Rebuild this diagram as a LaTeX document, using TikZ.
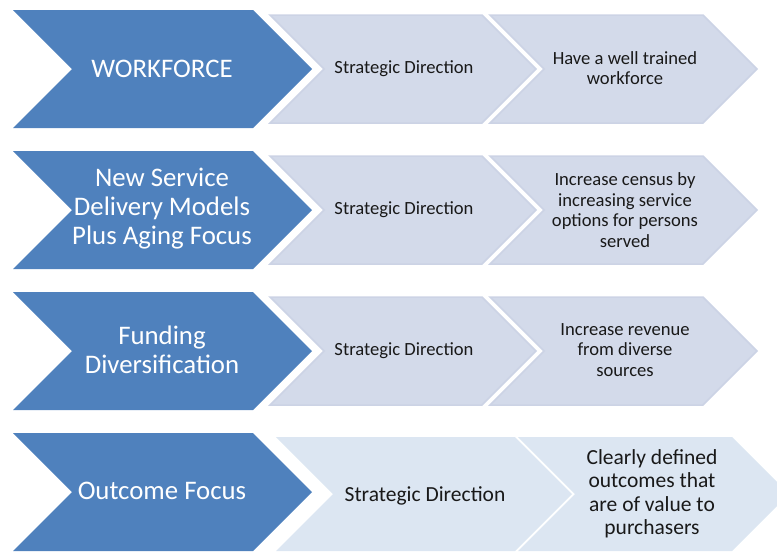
\documentclass[tikz,border=0pt]{standalone}
\usepackage{fontspec}
\setmainfont{Carlito}
\definecolor{darkblue}{HTML}{4F81BD}
\definecolor{lightA}{HTML}{D3DAEA}
\definecolor{lightAedge}{HTML}{CCD3E5}
\definecolor{lightB}{HTML}{DCE6F2}
\newcommand{\mychevron}[5]{%
  \path[#1] (#2,#4-#5) -- (#3,#4-#5) -- (#3+#5,#4) -- (#3,#4+#5) -- (#2,#4+#5) -- (#2+#5,#4) -- cycle;}
\begin{document}
\begin{tikzpicture}[x=1pt,y=-1pt,
  darkchev/.style={fill=darkblue},
  lightchev/.style={fill=lightA,draw=lightAedge,line width=1.5pt,line join=miter},
  paleschev/.style={fill=lightB},
  headtext/.style={text=white,font=\fontsize{26.8}{29}\selectfont,align=center,inner sep=0pt},
  smalltext/.style={text=black!90,font=\fontsize{18.6}{20.5}\selectfont,align=center,inner sep=0pt},
  bigtext/.style={text=black!90,font=\fontsize{21.5}{23.5}\selectfont,align=center,inner sep=0pt}]
\useasboundingbox (0,0) rectangle (777,552);
\clip (0,0) rectangle (777,552);
% Row 1
\mychevron{darkchev}{13}{253}{69}{59}
\mychevron{lightchev}{270}{482}{69}{54}
\mychevron{lightchev}{490}{703}{69}{54}
\node[headtext] (h1) at (162,69) {WORKFORCE};
\node[smalltext] (s1) at (404,69) {Strategic Direction};
\node[smalltext] (g1) at (625,68) {Have a well trained\\workforce};
% Row 2
\mychevron{darkchev}{13}{253}{210}{59}
\mychevron{lightchev}{270}{482}{210}{54}
\mychevron{lightchev}{490}{703}{210}{54}
\node[headtext] (h2) at (162,209) {New Service\\Delivery Models\\Plus Aging Focus};
\node[smalltext] (s2) at (404,210) {Strategic Direction};
\node[smalltext] (g2) at (625,210) {Increase census by\\increasing service\\options for persons\\served};
% Row 3
\mychevron{darkchev}{13}{253}{351}{59}
\mychevron{lightchev}{270}{482}{351}{54}
\mychevron{lightchev}{490}{703}{351}{54}
\node[headtext] (h3) at (162,350) {Funding\\Diversification};
\node[smalltext] (s3) at (404,351) {Strategic Direction};
\node[smalltext] (g3) at (625,350) {Increase revenue\\from diverse\\sources};
% Row 4
\mychevron{darkchev}{13}{253}{492}{59}
\mychevron{paleschev}{276}{515}{494}{57}
\mychevron{paleschev}{518}{732}{494}{57}
\node[headtext] (h4) at (162,491) {Outcome Focus};
\node[bigtext] (s4) at (425,496) {Strategic Direction};
\node[bigtext] (g4) at (652,494) {Clearly defined\\outcomes that\\are of value to\\purchasers};
\end{tikzpicture}
\end{document}
